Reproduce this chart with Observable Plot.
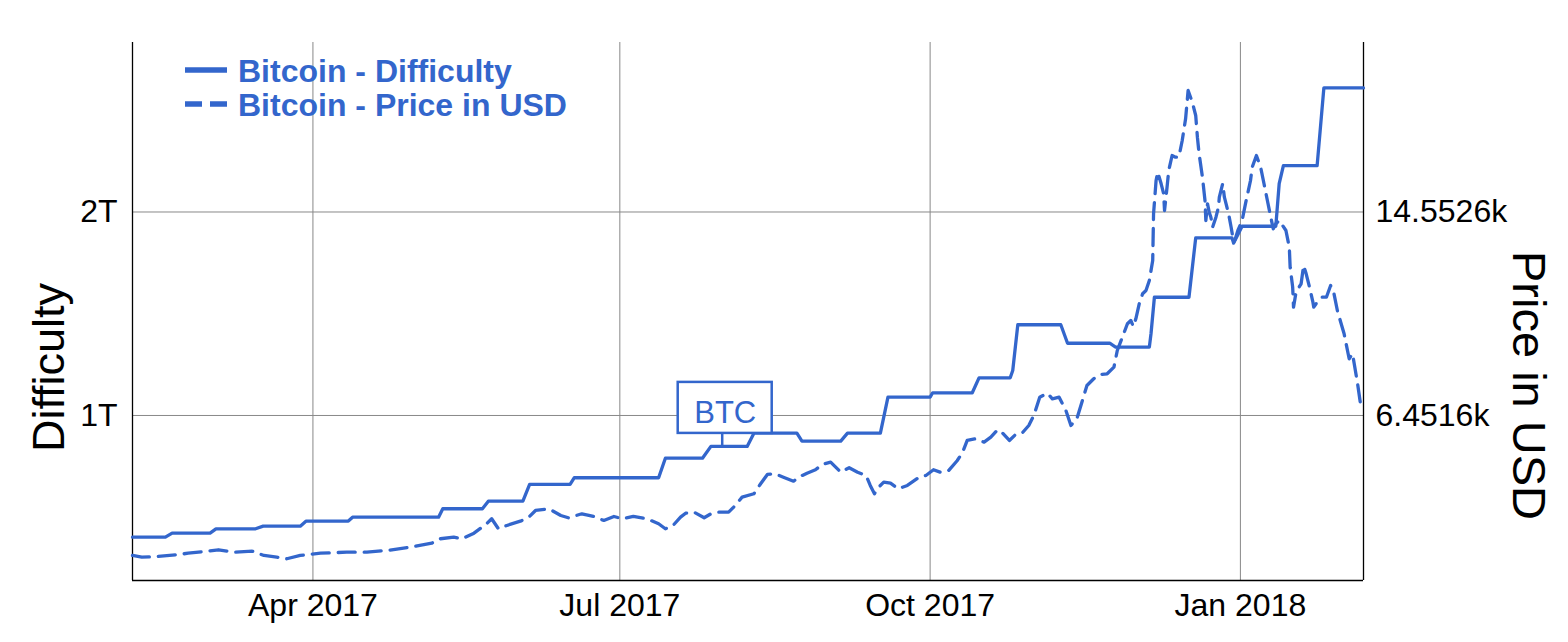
<!DOCTYPE html>
<html>
<head>
<meta charset="utf-8">
<script src="https://cdn.jsdelivr.net/npm/d3@7"></script>
<script src="https://cdn.jsdelivr.net/npm/@observablehq/plot@0.6"></script>
<style>
  body { margin: 0; background: #fff; }
  #wrap { position: relative; width: 1568px; height: 642px; }
  #legend { position: absolute; left: 0; top: 0; pointer-events: none; }
</style>
</head>
<body>
<div id="wrap"></div>
<script>
// ---------------- data ----------------
const seriesNames = ["Bitcoin - Difficulty", "Bitcoin - Price in USD"];
const lineColor = "#3366cc";

// Difficulty (in trillions)
const diffDates = [
  "2017-02-06T12","2017-02-16T06","2017-02-18T06","2017-03-01T12","2017-03-03T06","2017-03-15T00",
  "2017-03-17T06","2017-03-28T06","2017-03-30T00","2017-04-11T12","2017-04-12T18","2017-05-08T06",
  "2017-05-09T12","2017-05-21T06","2017-05-23T00","2017-06-02T06","2017-06-04T06","2017-06-16T06",
  "2017-06-17T12","2017-07-12T12","2017-07-14T12","2017-07-25T12","2017-07-28T00","2017-08-07T18",
  "2017-08-09T18","2017-08-22T12","2017-08-24T00","2017-09-04T12","2017-09-06T12","2017-09-16T06",
  "2017-09-18T12","2017-10-01T00","2017-10-01T18","2017-10-13T12","2017-10-15T12","2017-10-24T18",
  "2017-10-25T12","2017-10-27T00","2017-11-08T18","2017-11-10T18","2017-11-23T06","2017-11-25T00",
  "2017-12-05T00","2017-12-05T12","2017-12-06T12","2017-12-16T18","2017-12-18T18","2017-12-29T12",
  "2017-12-30T00","2018-01-01T12","2018-01-11T12","2018-01-12T12","2018-01-13T18","2018-01-23T18",
  "2018-01-25T18","2018-02-06T12"
];
const diffValues = [
  0.402,0.402,0.422,0.422,0.443,0.443,
  0.456,0.456,0.481,0.481,0.500,0.500,
  0.5415,0.5415,0.579,0.579,0.661,0.661,
  0.694,0.694,0.790,0.790,0.848,0.848,
  0.913,0.913,0.874,0.874,0.913,0.913,
  1.090,1.090,1.1115,1.1115,1.185,1.185,
  1.221,1.446,1.446,1.355,1.355,1.336,
  1.336,1.403,1.581,1.581,1.873,1.873,
  1.847,1.930,1.930,2.14,2.228,2.228,
  2.610,2.610
];

// Price in USD
const priceDates = [
  "2017-02-06T12","2017-02-09T06","2017-02-13T18","2017-02-19T18","2017-02-23T00","2017-02-28T00",
  "2017-03-04T00","2017-03-08T12","2017-03-14T00","2017-03-17T12","2017-03-21T06","2017-03-24T06",
  "2017-03-28T06","2017-04-03T06","2017-04-11T00","2017-04-17T00","2017-04-23T00","2017-04-30T00",
  "2017-05-06T06","2017-05-08T18","2017-05-12T18","2017-05-15T06","2017-05-18T18","2017-05-22T12",
  "2017-05-24T00","2017-05-26T00","2017-05-28T12","2017-06-01T12","2017-06-04T00","2017-06-06T00",
  "2017-06-10T00","2017-06-13T12","2017-06-15T18","2017-06-19T18","2017-06-23T06","2017-06-26T06",
  "2017-06-29T06","2017-07-01T18","2017-07-05T00","2017-07-09T00","2017-07-12T12","2017-07-14T12",
  "2017-07-16T12","2017-07-19T00","2017-07-20T12","2017-07-23T00","2017-07-26T00","2017-07-28T00",
  "2017-07-30T06","2017-08-02T06","2017-08-03T18","2017-08-06T06","2017-08-09T18","2017-08-11T18",
  "2017-08-13T18","2017-08-16T00","2017-08-18T12","2017-08-21T12","2017-08-23T00","2017-08-25T12",
  "2017-08-28T00","2017-08-30T00","2017-09-01T12","2017-09-03T00","2017-09-04T12","2017-09-07T00",
  "2017-09-09T12","2017-09-12T00","2017-09-13T06","2017-09-14T12","2017-09-15T06","2017-09-17T06",
  "2017-09-19T06","2017-09-21T12","2017-09-24T06","2017-09-27T18","2017-09-29T18","2017-10-02T00",
  "2017-10-04T00","2017-10-06T12","2017-10-09T00","2017-10-10T12","2017-10-12T00","2017-10-14T12",
  "2017-10-17T00","2017-10-19T00","2017-10-21T00","2017-10-22T12","2017-10-24T12","2017-10-26T06",
  "2017-10-28T06","2017-10-30T06","2017-10-31T18","2017-11-02T12","2017-11-04T18","2017-11-06T06",
  "2017-11-08T06","2017-11-10T06","2017-11-11T18","2017-11-13T12","2017-11-15T00","2017-11-16T12",
  "2017-11-18T12","2017-11-20T12","2017-11-22T12","2017-11-24T12","2017-11-25T12","2017-11-27T00",
  "2017-11-28T12","2017-11-29T12","2017-11-30T06","2017-12-01T00","2017-12-02T00","2017-12-03T00",
  "2017-12-04T00","2017-12-05T00","2017-12-06T00","2017-12-06T06","2017-12-07T00","2017-12-07T12",
  "2017-12-08T12","2017-12-09T06","2017-12-09T12","2017-12-10T06","2017-12-10T18","2017-12-11T18",
  "2017-12-12T18","2017-12-13T18","2017-12-14T18","2017-12-15T18","2017-12-16T12","2017-12-17T18",
  "2017-12-18T18","2017-12-19T06","2017-12-19T18","2017-12-20T18","2017-12-21T12","2017-12-21T18",
  "2017-12-22T06","2017-12-22T18","2017-12-23T06","2017-12-23T18","2017-12-24T18","2017-12-25T12",
  "2017-12-25T18","2017-12-26T18","2017-12-27T06","2017-12-28T00","2017-12-28T12","2017-12-29T06",
  "2017-12-30T00","2017-12-30T12","2017-12-31T06","2018-01-01T12","2018-01-02T12","2018-01-04T00",
  "2018-01-04T12","2018-01-05T18","2018-01-07T00","2018-01-08T00","2018-01-09T00","2018-01-10T00",
  "2018-01-10T18","2018-01-11T12","2018-01-12T12","2018-01-13T12","2018-01-14T12","2018-01-15T12",
  "2018-01-15T18","2018-01-16T12","2018-01-16T18","2018-01-17T12","2018-01-19T00","2018-01-19T18",
  "2018-01-20T12","2018-01-21T12","2018-01-22T12","2018-01-22T18","2018-01-23T18","2018-01-25T06",
  "2018-01-26T12","2018-01-27T18","2018-01-28T18","2018-01-29T18","2018-01-30T18","2018-01-31T18",
  "2018-02-01T18","2018-02-02T06","2018-02-03T06","2018-02-03T18","2018-02-04T18","2018-02-05T18",
  "2018-02-06T12"
];
const priceValues = [
  878,811,838,906,970,1037,
  1105,1010,1049,878,811,747,
  878,970,1010,1010,1077,1209,
  1368,1543,1607,1543,1766,2140,
  2339,1941,2073,2244,2403,2670,
  2737,2471,2379,2538,2431,2272,
  2431,2339,2431,2339,2140,1941,
  2033,2403,2562,2602,2379,2538,
  2602,2602,2801,3199,3335,3733,
  4103,4131,3995,3836,3995,4155,
  4290,4501,4593,4393,4194,4370,
  4194,4063,3665,3335,3534,3796,
  3756,3534,3665,3995,4063,4290,
  4194,4262,4650,4950,5456,5524,
  5389,5588,5882,5747,5456,5683,
  5747,6054,6452,7180,7339,7116,
  7180,6651,6054,6320,6981,7646,
  7913,8084,8112,8374,9039,9569,
  10102,10234,9995,10301,10898,11297,
  11428,11826,12622,14481,15807,16137,
  15676,15277,14613,15540,16205,16802,
  16735,16735,17399,18264,19390,18924,
  18395,17531,16870,15939,15011,14215,
  14879,14545,14346,13948,14346,14744,
  15142,15676,15142,14744,14481,13948,
  13351,13486,13817,14215,14879,15807,
  16336,16802,16336,15676,15011,14346,
  13884,14083,14215,14016,13817,13152,
  12355,11560,10763,11360,11695,12423,
  12093,11560,10962,10763,10962,11161,
  11161,11627,11297,10632,10166,9704,
  9039,8709,8908,8510,7714,6782,
  6730
];

// Axes
const xDomain = ["2017-02-06T12", "2018-02-06T12"];
const xTicks = ["2017-04-01T00", "2017-07-01T00", "2017-10-01T00", "2018-01-01T00"];
const xTickLabels = ["Apr 2017", "Jul 2017", "Oct 2017", "Jan 2018"];
const yDomain = [0.189, 2.833];            // difficulty, trillions
const leftTicks = [1, 2];
const leftTickLabels = ["1T", "2T"];
const rightTickPrices = [6451.6, 14552.6];  // prices that line up with left ticks
const rightTickLabels = ["6.4516k", "14.5526k"];
const leftTitle = "Difficulty";
const rightTitle = "Price in USD";

// Annotation
const annDate = "2017-07-31T12";
const annValue = 0.848;
const annLabel = "BTC";

// ---------------- build ----------------
const parse = d3.utcParse("%Y-%m-%dT%H");
const font = "'Liberation Sans', Arial, Helvetica, sans-serif";

// price -> left (difficulty) scale, matching the two paired ticks
const pSlope = (leftTicks[1] - leftTicks[0]) / (rightTickPrices[1] - rightTickPrices[0]);
const priceToY = p => leftTicks[0] + (p - rightTickPrices[0]) * pSlope;

const diffData = diffDates.map((d, i) => ({date: parse(d), value: diffValues[i]}));
const priceData = priceDates.map((d, i) => ({date: parse(d), value: priceToY(priceValues[i])}));
const xDom = xDomain.map(parse);
const xTickDates = xTicks.map(parse);

function annotation(index, scales) {
  const x = scales.x(parse(annDate)), y = scales.y(annValue);
  const g = d3.create("svg:g");
  g.append("line").attr("x1", x).attr("x2", x).attr("y1", y).attr("y2", y - 13)
    .attr("stroke", lineColor).attr("stroke-width", 2.5);
  g.append("rect").attr("x", x - 44.5).attr("y", y - 64).attr("width", 94).attr("height", 51)
    .attr("fill", "white").attr("stroke", lineColor).attr("stroke-width", 2.5);
  g.append("text").attr("x", x + 3).attr("y", y - 23).attr("text-anchor", "middle")
    .attr("fill", lineColor).attr("font-size", 31).attr("font-family", font).text(annLabel);
  return g.node();
}

const chart = Plot.plot({
  width: 1568,
  height: 642,
  marginLeft: 132,
  marginRight: 205,
  marginTop: 42,
  marginBottom: 62,
  style: {fontFamily: font, fontSize: "32px", background: "white", color: "black"},
  x: {type: "utc", domain: xDom},
  y: {domain: yDomain},
  marks: [
    Plot.gridX(xTickDates, {stroke: "#888", strokeOpacity: 1, strokeWidth: 1}),
    Plot.gridY(leftTicks, {stroke: "#888", strokeOpacity: 1, strokeWidth: 1}),
    Plot.ruleX(xDom, {stroke: "black", strokeWidth: 1.3}),
    Plot.ruleY([yDomain[0]], {stroke: "black", strokeWidth: 1.3}),
    Plot.line(priceData, {x: "date", y: "value", stroke: lineColor, strokeWidth: 3.3,
      strokeDasharray: "17,9", strokeLinejoin: "round"}),
    Plot.line(diffData, {x: "date", y: "value", stroke: lineColor, strokeWidth: 3.3,
      strokeLinejoin: "round"}),
    annotation,
    Plot.axisX({ticks: xTickDates, tickFormat: d => xTickLabels[xTickDates.findIndex(t => +t === +d)],
      tickSize: 0, tickPadding: 13, label: null, fontSize: 32}),
    Plot.axisY({anchor: "left", ticks: leftTicks, tickFormat: d => leftTickLabels[leftTicks.indexOf(d)],
      tickSize: 0, tickPadding: 15, label: null, fontSize: 32}),
    Plot.axisY({anchor: "right", ticks: leftTicks, tickFormat: d => rightTickLabels[leftTicks.indexOf(d)],
      tickSize: 0, tickPadding: 12, label: null, fontSize: 32}),
    Plot.text([leftTitle], {text: d => d, frameAnchor: "left", textAnchor: "middle", lineAnchor: "middle",
      dx: -83, dy: 56, rotate: -90, fontSize: 45, fill: "black"}),
    Plot.text([rightTitle], {text: d => d, frameAnchor: "right", textAnchor: "middle", lineAnchor: "middle",
      dx: 165, dy: 74, rotate: 90, fontSize: 47, fill: "black"})
  ]
});
document.getElementById("wrap").appendChild(chart);

// Legend (overlay, top-left inside the plot frame)
const legend = d3.select("#wrap").append("svg").attr("id", "legend")
  .attr("width", 1568).attr("height", 642);
seriesNames.forEach((name, i) => {
  const cy = 70 + i * 34;
  legend.append("line").attr("x1", 185).attr("x2", 227).attr("y1", cy).attr("y2", cy)
    .attr("stroke", lineColor).attr("stroke-width", 5.5)
    .attr("stroke-dasharray", i === 1 ? "17,8" : null);
  legend.append("text").attr("x", 238).attr("y", cy + 12)
    .attr("fill", lineColor).attr("font-family", font).attr("font-weight", "bold")
    .attr("font-size", 32).text(name);
});
</script>
</body>
</html>
